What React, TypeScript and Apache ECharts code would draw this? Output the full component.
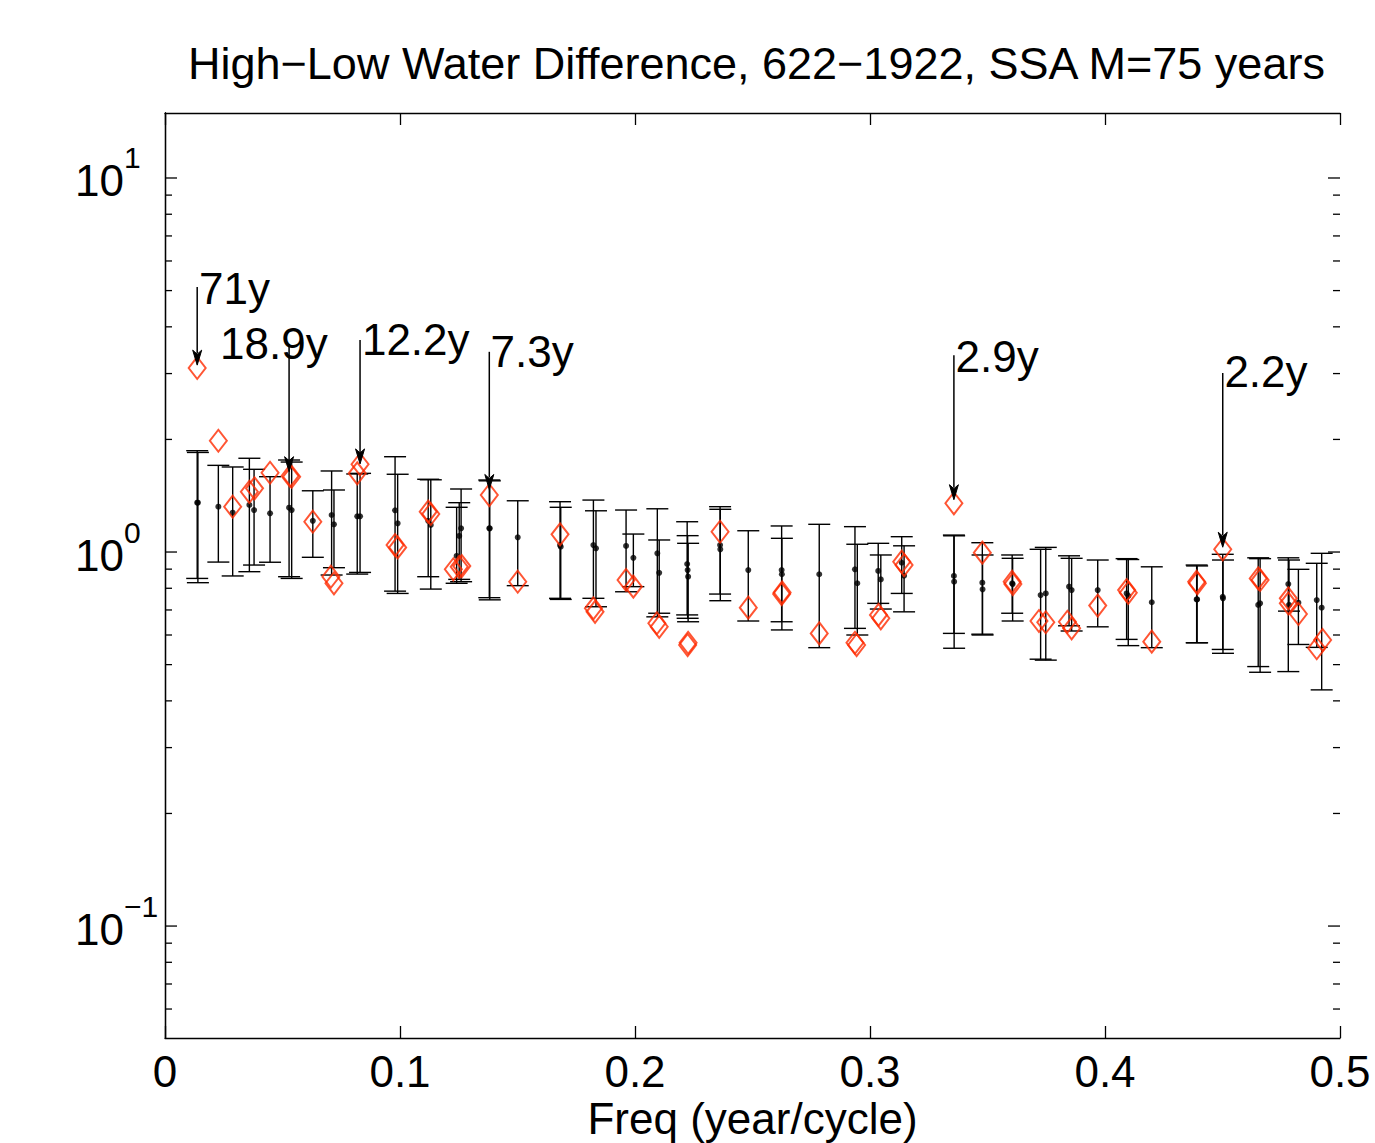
import React, { useEffect, useRef } from 'react';
import * as echarts from 'echarts';

const FONT = '"Liberation Sans", Arial, Helvetica, sans-serif';
const RED = '#ff2a00';

const titleText = 'High\u2212Low Water Difference, 622\u22121922, SSA M=75 years';
const xAxisName = 'Freq (year/cycle)';
const xTickValues = [0, 0.1, 0.2, 0.3, 0.4, 0.5];
const xTickLabels = ['0', '0.1', '0.2', '0.3', '0.4', '0.5'];
const yTickValues = [0.1, 1, 10];
const yTickBase = ['10', '10', '10'];
const yTickExps = ['\u22121', '0', '1'];
const yMinorTicks = [0.06, 0.07, 0.08, 0.09, 0.2, 0.3, 0.4, 0.5, 0.6, 0.7, 0.8, 0.9, 2, 3, 4, 5, 6, 7, 8, 9];
const yMin = 0.0502;
const yMax = 14.92;

// error bars: frequency, lower, upper, estimate (black dot)
const barFreq = [0.0137, 0.0140, 0.0227, 0.0288, 0.0359, 0.0379, 0.0447, 0.0528, 0.0539, 0.0629, 0.0709, 0.0719, 0.0818, 0.0830, 0.0979, 0.0990, 0.1120, 0.1131, 0.1241, 0.1252, 0.1260, 0.1380, 0.1382, 0.1501, 0.1681, 0.1684, 0.1823, 0.1834, 0.1962, 0.1993, 0.2095, 0.2103, 0.2222, 0.2224, 0.2226, 0.2362, 0.2363, 0.2482, 0.2624, 0.2625, 0.2784, 0.2936, 0.2946, 0.3035, 0.3046, 0.3135, 0.3145, 0.3357, 0.3358, 0.3478, 0.3479, 0.3605, 0.3607, 0.3726, 0.3748, 0.3847, 0.3858, 0.3969, 0.4092, 0.4099, 0.4199, 0.4390, 0.4392, 0.4501, 0.4502, 0.4652, 0.4660, 0.4780, 0.4783, 0.4823, 0.4901, 0.4922];
const barLow = [0.850, 0.828, 0.940, 0.863, 0.886, 0.923, 0.939, 0.859, 0.850, 0.968, 0.868, 0.908, 0.873, 0.882, 0.786, 0.775, 0.859, 0.796, 0.825, 0.845, 0.833, 0.755, 0.745, 0.813, 0.752, 0.747, 0.752, 0.714, 0.783, 0.808, 0.671, 0.686, 0.679, 0.665, 0.651, 0.772, 0.741, 0.654, 0.651, 0.619, 0.555, 0.625, 0.600, 0.729, 0.704, 0.775, 0.692, 0.606, 0.553, 0.603, 0.600, 0.686, 0.654, 0.517, 0.514, 0.635, 0.615, 0.631, 0.584, 0.562, 0.555, 0.572, 0.572, 0.549, 0.536, 0.494, 0.477, 0.479, 0.695, 0.566, 0.556, 0.428];
const barHigh = [1.866, 1.846, 1.705, 1.688, 1.781, 1.664, 1.590, 1.762, 1.740, 1.458, 1.647, 1.465, 1.617, 1.623, 1.798, 1.614, 1.565, 1.560, 1.317, 1.355, 1.474, 1.558, 1.550, 1.371, 1.363, 1.317, 1.377, 1.289, 1.295, 1.117, 1.305, 1.077, 1.205, 1.106, 1.055, 1.322, 1.301, 1.140, 1.174, 1.088, 1.186, 1.169, 1.049, 1.055, 0.982, 1.099, 1.039, 1.110, 1.105, 1.059, 0.982, 0.982, 0.962, 1.017, 1.029, 0.977, 0.962, 0.952, 0.960, 0.955, 0.913, 0.923, 0.918, 0.986, 0.952, 0.965, 0.960, 0.965, 0.952, 0.899, 0.933, 0.992];
const barMid = [1.355, 1.355, 1.322, 1.274, 1.336, 1.295, 1.269, 1.314, 1.295, 1.212, 1.256, 1.186, 1.246, 1.246, 1.293, 1.193, 1.212, 1.181, 0.976, 1.104, 1.157, 1.157, 1.157, 1.095, 1.044, 1.033, 1.044, 1.023, 1.038, 0.965, 0.992, 0.880, 0.929, 0.895, 0.859, 1.044, 1.017, 0.895, 0.895, 0.872, 0.872, 0.899, 0.825, 0.890, 0.845, 0.936, 0.864, 0.863, 0.833, 0.828, 0.795, 0.825, 0.821, 0.767, 0.775, 0.808, 0.791, 0.791, 0.775, 0.763, 0.734, 0.747, 0.747, 0.759, 0.752, 0.722, 0.729, 0.821, 0.722, 0.732, 0.744, 0.710];

// red diamonds
const diamondFreq = [0.0137, 0.0227, 0.0288, 0.0359, 0.0381, 0.0447, 0.0532, 0.0539, 0.0629, 0.0706, 0.0719, 0.0818, 0.0830, 0.0979, 0.0990, 0.1120, 0.1131, 0.1227, 0.1252, 0.1263, 0.1380, 0.1501, 0.1681, 0.1823, 0.1830, 0.1962, 0.1993, 0.2093, 0.2103, 0.2224, 0.2226, 0.2362, 0.2482, 0.2624, 0.2626, 0.2784, 0.2936, 0.2943, 0.3036, 0.3046, 0.3135, 0.3145, 0.3357, 0.3478, 0.3605, 0.3608, 0.3719, 0.3748, 0.3840, 0.3858, 0.3969, 0.4092, 0.4099, 0.4199, 0.4390, 0.4393, 0.4501, 0.4652, 0.4660, 0.4780, 0.4780, 0.4823, 0.4901, 0.4926];
const diamondVal = [3.105, 1.984, 1.322, 1.449, 1.480, 1.629, 1.597, 1.590, 1.205, 0.859, 0.825, 1.623, 1.716, 1.044, 1.029, 1.282, 1.264, 0.899, 0.913, 0.917, 1.420, 0.833, 1.115, 0.707, 0.692, 0.842, 0.808, 0.645, 0.631, 0.564, 0.572, 1.133, 0.710, 0.772, 0.780, 0.606, 0.572, 0.564, 0.679, 0.665, 0.942, 0.923, 1.350, 0.996, 0.833, 0.821, 0.654, 0.649, 0.651, 0.625, 0.719, 0.791, 0.778, 0.576, 0.833, 0.825, 1.017, 0.850, 0.842, 0.752, 0.729, 0.683, 0.553, 0.582];

// annotations (period labels with arrows)
const annLabel = ['71y', '18.9y', '12.2y', '7.3y', '2.9y', '2.2y'];
const annFreq = [0.0137, 0.0528, 0.0830, 0.1380, 0.3357, 0.4501];
const annTop = [5.11, 3.60, 3.69, 3.43, 3.36, 3.01];
const annTip = [3.16, 1.64, 1.72, 1.47, 1.38, 1.03];
const annLabelFreq = [0.0145, 0.0234, 0.0838, 0.1385, 0.3364, 0.4508];
const annLabelVal = [5.08, 3.60, 3.71, 3.43, 3.34, 3.03];

function App() {
  const ref = useRef<HTMLDivElement>(null);
  useEffect(() => {
    if (!ref.current) return;
    const chart = echarts.init(ref.current, null, { renderer: 'svg' });

    const barData = barFreq.map((f, i) => [f, barLow[i], barHigh[i]]);
    const dotData = barFreq.map((f, i) => [f, barMid[i]]);
    const diaData = diamondFreq.map((f, i) => [f, diamondVal[i]]);
    const annData = annFreq.map((f, i) => [f, annTop[i], annTip[i], annLabelFreq[i], annLabelVal[i]]);
    // y ticks: [x, value, isMajor]
    const yTickData = [
      ...yTickValues.map((v) => [0.25, v, 1]),
      ...yMinorTicks.map((v) => [0.25, v, 0]),
    ];
    const yLabelData = yTickValues.map((v) => [0, v]);

    const axisLineStyle = { color: '#000', width: 1.3 };

    chart.setOption({
      animation: false,
      backgroundColor: '#fff',
      title: {
        text: titleText,
        left: 183,
        top: 36,
        textStyle: { fontFamily: FONT, fontSize: 45, fontWeight: 'normal', color: '#000' },
      },
      grid: { left: 165, right: 35, top: 113, bottom: 105, containLabel: false, outerBoundsMode: 'none' },
      xAxis: [
        {
          type: 'value',
          min: 0,
          max: 0.5,
          interval: 0.1,
          position: 'bottom',
          name: xAxisName,
          nameLocation: 'middle',
          nameGap: 58,
          nameMoveOverlap: false,
          nameTextStyle: { fontFamily: FONT, fontSize: 44, color: '#000', lineHeight: 44 },
          axisLine: { show: true, lineStyle: axisLineStyle },
          axisTick: { show: true, inside: true, length: 12, lineStyle: axisLineStyle },
          splitLine: { show: false },
          axisLabel: {
            fontFamily: FONT,
            fontSize: 44,
            lineHeight: 38,
            color: '#000',
            margin: 14,
            formatter: (v: number) => {
              const i = xTickValues.findIndex((t) => Math.abs(t - v) < 1e-9);
              return i >= 0 ? xTickLabels[i] : '';
            },
          },
        },
        {
          type: 'value',
          min: 0,
          max: 0.5,
          interval: 0.1,
          position: 'top',
          axisLine: { show: true, lineStyle: axisLineStyle },
          axisTick: { show: true, inside: true, length: 12, lineStyle: axisLineStyle },
          axisLabel: { show: false },
          splitLine: { show: false },
        },
      ],
      yAxis: [
        {
          type: 'log',
          logBase: 10,
          min: yMin,
          max: yMax,
          position: 'left',
          axisLine: { show: true, lineStyle: axisLineStyle },
          axisTick: { show: false },
          splitLine: { show: false },
          minorTick: { show: false },
          axisLabel: { show: false },
        },
        {
          type: 'log',
          logBase: 10,
          min: yMin,
          max: yMax,
          position: 'right',
          axisLine: { show: true, lineStyle: axisLineStyle },
          axisTick: { show: false },
          splitLine: { show: false },
          axisLabel: { show: false },
        },
      ],
      series: [
        {
          name: 'yTicks',
          type: 'custom',
          silent: true,
          clip: false,
          data: yTickData,
          encode: { x: 0, y: 1 },
          renderItem: (params: any, api: any) => {
            const p = api.coord([api.value(0), api.value(1)]);
            const cs = params.coordSys;
            const len = api.value(2) ? 12 : 7;
            const st = { stroke: '#000', lineWidth: 1.3 };
            const xl = cs.x;
            const xr = cs.x + cs.width;
            return {
              type: 'group',
              children: [
                { type: 'line', shape: { x1: xl, y1: p[1], x2: xl + len, y2: p[1] }, style: st },
                { type: 'line', shape: { x1: xr - len, y1: p[1], x2: xr, y2: p[1] }, style: st },
              ],
            };
          },
          z: 6,
        },
        {
          name: 'yLabels',
          type: 'custom',
          silent: true,
          clip: false,
          data: yLabelData,
          encode: { x: 0, y: 1 },
          renderItem: (params: any, api: any) => {
            const p = api.coord([api.value(0), api.value(1)]);
            const i = params.dataIndex;
            const x0 = p[0] - 90;
            return {
              type: 'group',
              children: [
                {
                  type: 'text',
                  x: x0,
                  y: p[1] + 3,
                  style: { text: yTickBase[i], font: `44px ${FONT}`, fill: '#000', align: 'left', verticalAlign: 'middle' },
                },
                {
                  type: 'text',
                  x: x0 + 49,
                  y: p[1] - 20,
                  style: { text: yTickExps[i], font: `30px ${FONT}`, fill: '#000', align: 'left', verticalAlign: 'middle' },
                },
              ],
            };
          },
          z: 6,
        },
        {
          name: 'errorBars',
          type: 'custom',
          silent: true,
          data: barData,
          encode: { x: 0, y: [1, 2] },
          renderItem: (params: any, api: any) => {
            const f = api.value(0);
            const lo = api.coord([f, api.value(1)]);
            const hi = api.coord([f, api.value(2)]);
            const w = 11;
            const st = { stroke: '#000', lineWidth: 1.4 };
            return {
              type: 'group',
              children: [
                { type: 'line', shape: { x1: lo[0], y1: lo[1], x2: hi[0], y2: hi[1] }, style: st },
                { type: 'line', shape: { x1: lo[0] - w, y1: lo[1], x2: lo[0] + w, y2: lo[1] }, style: st },
                { type: 'line', shape: { x1: hi[0] - w, y1: hi[1], x2: hi[0] + w, y2: hi[1] }, style: st },
              ],
            };
          },
          z: 2,
        },
        {
          name: 'estimate',
          type: 'scatter',
          silent: true,
          data: dotData,
          symbol: 'circle',
          symbolSize: 6,
          itemStyle: { color: '#000' },
          z: 3,
        },
        {
          name: 'eigenvalue',
          type: 'scatter',
          silent: true,
          data: diaData,
          symbol: 'diamond',
          symbolSize: [17, 22],
          itemStyle: { color: 'rgba(0,0,0,0)', borderColor: RED, borderWidth: 2 },
          z: 4,
        },
        {
          name: 'annotations',
          type: 'custom',
          silent: true,
          data: annData,
          encode: { x: [0, 3], y: [1, 2, 4] },
          renderItem: (params: any, api: any) => {
            const f = api.value(0);
            const top = api.coord([f, api.value(1)]);
            const tip = api.coord([f, api.value(2)]);
            const tp = api.coord([api.value(3), api.value(4)]);
            const head = 15;
            const hw = 4.5;
            return {
              type: 'group',
              children: [
                { type: 'line', shape: { x1: top[0], y1: top[1], x2: tip[0], y2: tip[1] - head + 3 }, style: { stroke: '#000', lineWidth: 1.5 } },
                {
                  type: 'polygon',
                  shape: { points: [[tip[0] - hw, tip[1] - head], [tip[0], tip[1] - head + 4], [tip[0] + hw, tip[1] - head], [tip[0], tip[1]]] },
                  style: { fill: '#000', stroke: '#000', lineWidth: 1 },
                },
                {
                  type: 'text',
                  x: tp[0],
                  y: tp[1],
                  style: {
                    text: annLabel[params.dataIndex],
                    font: `44px ${FONT}`,
                    fill: '#000',
                    align: 'left',
                    verticalAlign: 'middle',
                  },
                },
              ],
            };
          },
          z: 5,
        },
      ],
    });
    return () => chart.dispose();
  }, []);
  return <div ref={ref} style={{ position: 'fixed', left: 0, top: 0, width: 1375, height: 1143, background: '#fff' }} />;
}

export default App;
